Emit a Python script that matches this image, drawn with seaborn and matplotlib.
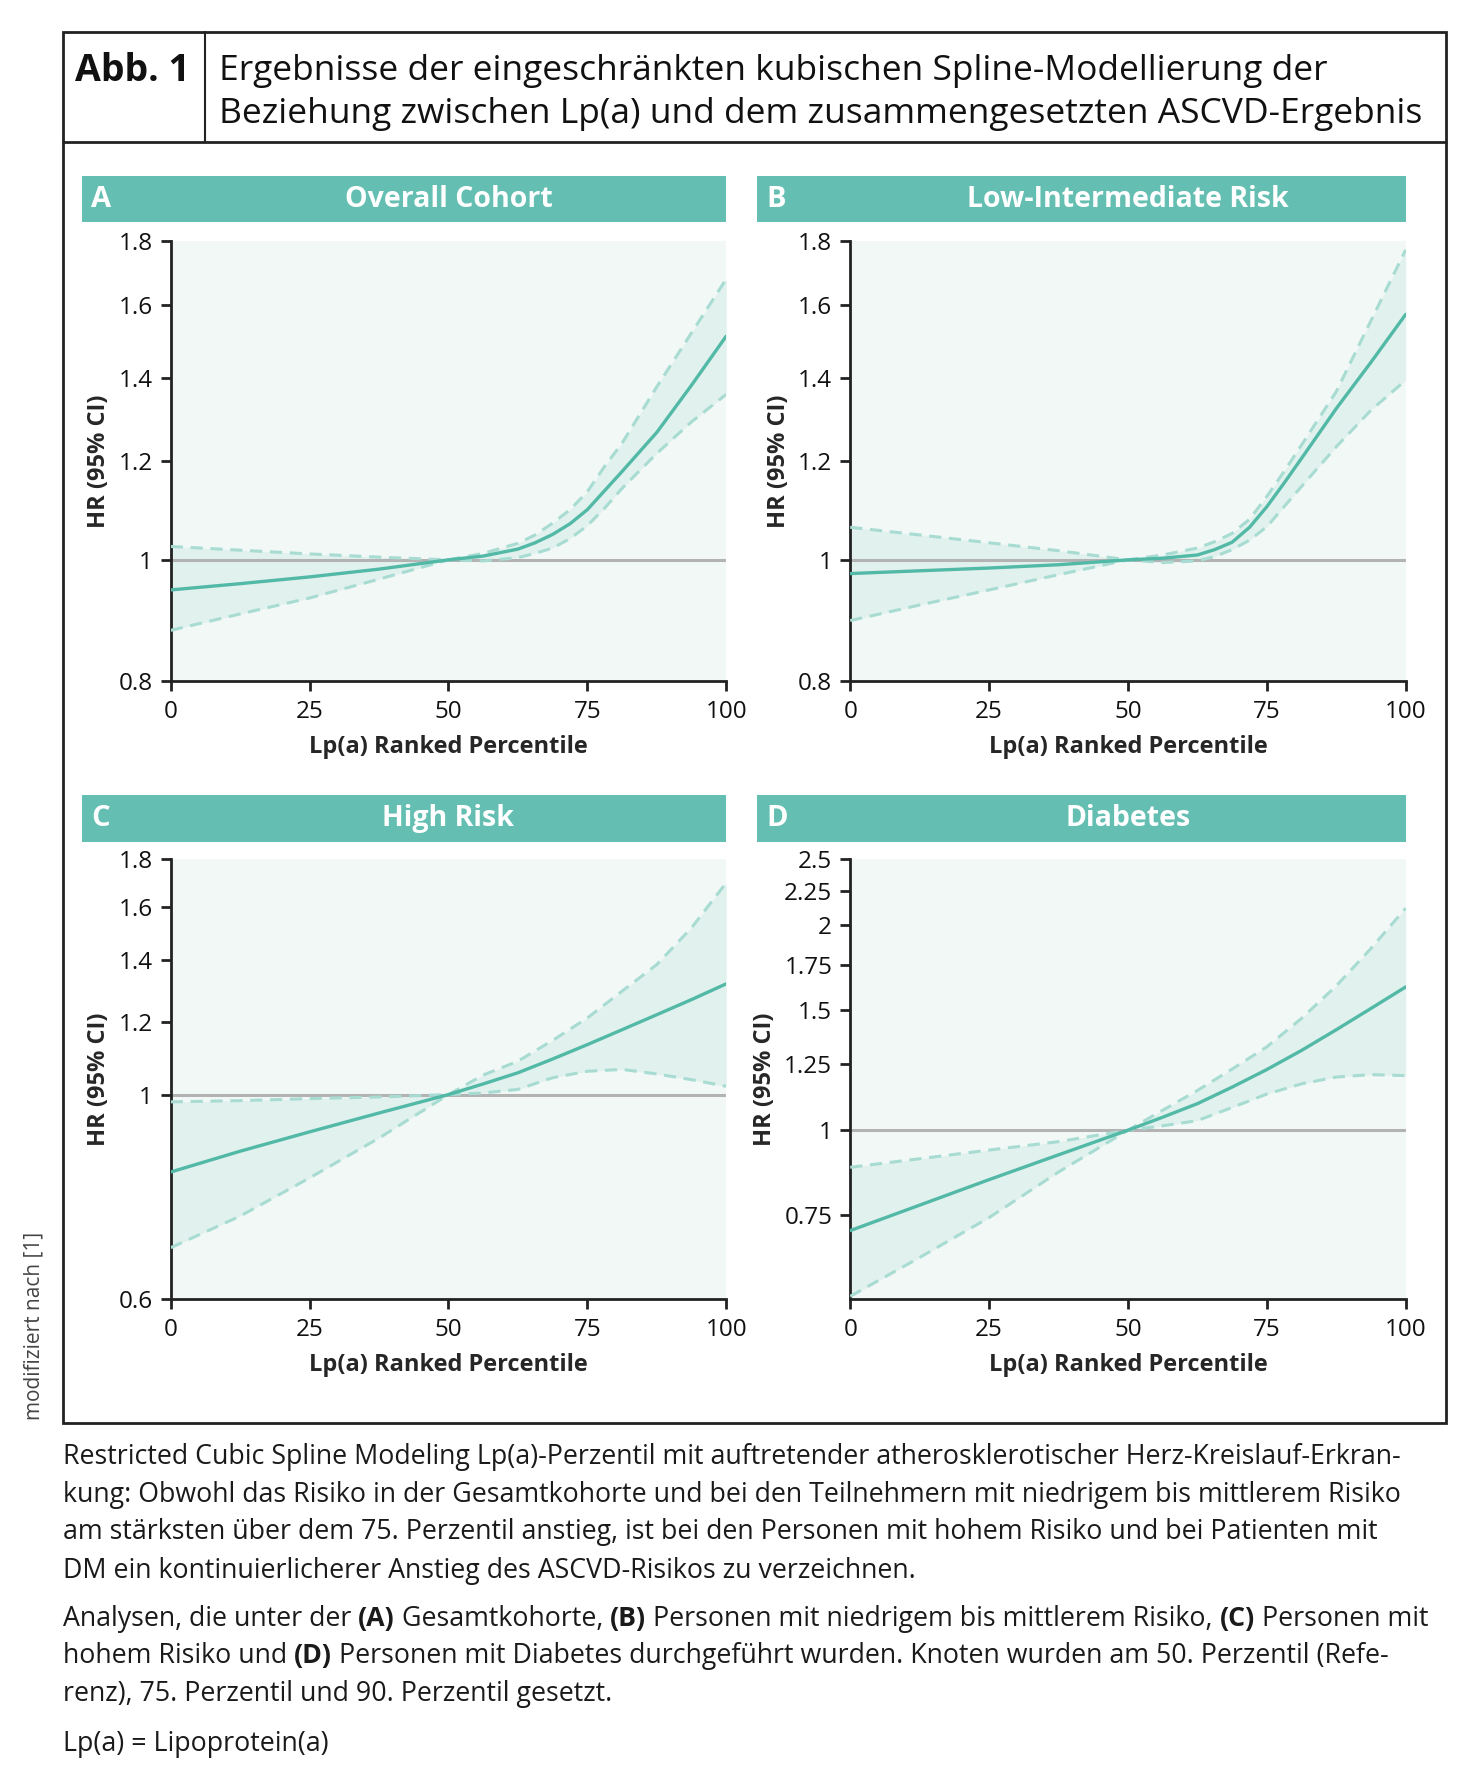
import matplotlib
matplotlib.use("Agg")
import matplotlib.pyplot as plt
from matplotlib.patches import Rectangle
from matplotlib.lines import Line2D
from matplotlib.ticker import FixedLocator, NullLocator
import seaborn as sns

# percentile grids (denser around the knee for A and B)
pct_ab = [0, 12.5, 25, 37.5, 50, 56.25, 62.5, 65.6, 68.75, 71.9, 75, 78.1, 81.25, 87.5, 93.75, 100]
pct_cd = [0, 12.5, 25, 37.5, 50, 56.25, 62.5, 68.75, 75, 81.25, 87.5, 93.75, 100]

# A - overall cohort
a_hr = [0.946, 0.957, 0.969, 0.983, 1.0, 1.007, 1.020, 1.032, 1.048, 1.069, 1.097, 1.136, 1.177, 1.265, 1.380, 1.511]
a_hi = [1.025, 1.018, 1.011, 1.005, 1.0, 1.012, 1.031, 1.047, 1.070, 1.097, 1.134, 1.188, 1.240, 1.376, 1.520, 1.679]
a_lo = [0.878, 0.905, 0.932, 0.965, 1.0, 0.998, 1.004, 1.012, 1.022, 1.040, 1.065, 1.100, 1.141, 1.217, 1.290, 1.357]

# B - low-intermediate risk
b_hr = [0.975, 0.980, 0.985, 0.991, 1.0, 1.003, 1.009, 1.019, 1.033, 1.062, 1.103, 1.152, 1.206, 1.322, 1.440, 1.573]
b_hi = [1.062, 1.047, 1.032, 1.017, 1.0, 1.009, 1.022, 1.034, 1.050, 1.078, 1.124, 1.177, 1.236, 1.364, 1.555, 1.772]
b_lo = [0.894, 0.920, 0.946, 0.973, 1.0, 0.995, 0.998, 1.006, 1.019, 1.037, 1.063, 1.103, 1.145, 1.232, 1.318, 1.393]

# C - high risk
c_hr = [0.824, 0.868, 0.911, 0.955, 1.0, 1.027, 1.056, 1.093, 1.133, 1.176, 1.221, 1.268, 1.319]
c_hi = [0.982, 0.985, 0.990, 0.994, 1.0, 1.050, 1.087, 1.145, 1.211, 1.295, 1.384, 1.517, 1.698]
c_lo = [0.682, 0.738, 0.812, 0.897, 1.0, 1.004, 1.013, 1.043, 1.060, 1.065, 1.053, 1.038, 1.021]

# D - diabetes
d_hr = [0.712, 0.776, 0.846, 0.920, 1.0, 1.045, 1.094, 1.157, 1.228, 1.310, 1.405, 1.510, 1.624]
d_hi = [0.882, 0.908, 0.935, 0.962, 1.0, 1.070, 1.144, 1.230, 1.326, 1.460, 1.630, 1.850, 2.120]
d_lo = [0.570, 0.650, 0.744, 0.868, 1.0, 1.015, 1.033, 1.080, 1.130, 1.170, 1.197, 1.207, 1.203]

panel_letters = ["A", "B", "C", "D"]
panel_titles = ["Overall Cohort", "Low-Intermediate Risk", "High Risk", "Diabetes"]
xticks = [0, 25, 50, 75, 100]
yticks_ab = [0.8, 1, 1.2, 1.4, 1.6, 1.8]
yticks_c = [0.6, 1, 1.2, 1.4, 1.6, 1.8]
yticks_d = [0.75, 1, 1.25, 1.5, 1.75, 2, 2.25, 2.5]

TEAL = "#64BFB2"
LINE = "#52B9A7"
DASH = "#A8DCD2"
BAND = "#E1F1ED"
BG = "#F1F8F6"
REF = "#B3B3B3"

sns.set_theme(style="ticks")
plt.rcParams["font.family"] = ["Open Sans", "DejaVu Sans"]

fig = plt.figure(figsize=(14.66, 17.85), dpi=100)
W, H = 1288.0, 1568.0  # layout measured on a scaled copy


def fx(px):
    return px / W


def fy(py):
    return 1 - py / H


# frame around the figure
fig.add_artist(Rectangle((fx(55), fy(1250)), fx(1270) - fx(55), fy(28) - fy(1250),
                         transform=fig.transFigure, fill=False, ec="#222222", lw=2))
fig.add_artist(Line2D([fx(55), fx(1270)], [fy(125), fy(125)], transform=fig.transFigure,
                      color="#222222", lw=2))
fig.add_artist(Line2D([fx(180), fx(180)], [fy(28), fy(125)], transform=fig.transFigure,
                      color="#222222", lw=1.5))
fig.text(fx(116), fy(62), "Abb. 1", fontsize=27, fontweight="bold", ha="center", va="center",
         color="#111111")
fig.text(fx(192), fy(62), "Ergebnisse der eingeschränkten kubischen Spline-Modellierung der",
         fontsize=25.5, ha="left", va="center", color="#111111")
fig.text(fx(192), fy(100), "Beziehung zwischen Lp(a) und dem zusammengesetzten ASCVD-Ergebnis",
         fontsize=25.5, ha="left", va="center", color="#111111")

# panel geometry: (bar left, bar right, axes left, bar top, bar bottom, axes top, axes bottom)
geo = [
    (72, 638, 150, 155, 195, 212, 598),
    (665, 1235, 747, 155, 195, 212, 598),
    (72, 638, 150, 698, 740, 755, 1141),
    (665, 1235, 747, 698, 740, 755, 1141),
]
xs = [pct_ab, pct_ab, pct_cd, pct_cd]
series = [(a_hr, a_lo, a_hi), (b_hr, b_lo, b_hi), (c_hr, c_lo, c_hi), (d_hr, d_lo, d_hi)]
ylims = [(0.8, 1.8), (0.8, 1.8), (0.6, 1.8), (0.565, 2.5)]
yticks_all = [yticks_ab, yticks_ab, yticks_c, yticks_d]

for i in range(4):
    bl, br, al, bt, bb, at, ab = geo[i]
    hr, lo, hi = series[i]
    x = xs[i]
    # header bar
    fig.add_artist(Rectangle((fx(bl), fy(bb)), fx(br) - fx(bl), fy(bt) - fy(bb),
                             transform=fig.transFigure, color=TEAL, lw=0))
    fig.text(fx(bl + 8), fy((bt + bb) / 2), panel_letters[i], color="white", fontsize=21,
             fontweight="bold", ha="left", va="center")
    fig.text((fx(al) + fx(br)) / 2, fy((bt + bb) / 2), panel_titles[i], color="white",
             fontsize=20.5, fontweight="bold", ha="center", va="center")

    ax = fig.add_axes([fx(al), fy(ab), fx(br) - fx(al), fy(at) - fy(ab)])
    ax.set_facecolor(BG)
    ax.set_yscale("log")
    ax.fill_between(x, lo, hi, color=BAND, lw=0, zorder=1)
    ax.axhline(1, color=REF, lw=2.2, zorder=2)
    sns.lineplot(x=x, y=hi, ax=ax, color=DASH, lw=2.2, linestyle=(0, (4, 2.5)), zorder=3)
    sns.lineplot(x=x, y=lo, ax=ax, color=DASH, lw=2.2, linestyle=(0, (4, 2.5)), zorder=3)
    sns.lineplot(x=x, y=hr, ax=ax, color=LINE, lw=2.4, zorder=4)

    ax.set_xlim(0, 100)
    ax.set_ylim(*ylims[i])
    ax.xaxis.set_major_locator(FixedLocator(xticks))
    ax.set_xticklabels([str(v) for v in xticks])
    ax.yaxis.set_major_locator(FixedLocator(yticks_all[i]))
    ax.yaxis.set_minor_locator(NullLocator())
    ax.set_yticklabels([("%g" % v) for v in yticks_all[i]])
    for side in ["top", "right"]:
        ax.spines[side].set_visible(False)
    for side in ["left", "bottom"]:
        ax.spines[side].set_linewidth(2)
        ax.spines[side].set_color("#222222")
    ax.tick_params(axis="both", length=7, width=2, color="#222222", labelsize=17.5,
                   labelcolor="#111111", pad=6)
    ax.tick_params(axis="x", pad=7)
    ax.set_xlabel("Lp(a) Ranked Percentile", fontsize=17, fontweight="bold", labelpad=8)
    ax.set_ylabel("HR (95% CI)", fontsize=17, fontweight="bold", labelpad=5)

fig.text(fx(30), fy(1165), "modifiziert nach [1]", rotation=90, fontsize=15, color="#444444",
         ha="center", va="center")

# caption below the frame, with some bold pieces
renderer = fig.canvas.get_renderer()
CAP = 19.3


def rich_line(y, parts):
    x = fx(55)
    for txt, bold in parts:
        t = fig.text(x, y, txt, fontsize=CAP, fontweight="bold" if bold else "normal",
                     ha="left", va="center", color="#1a1a1a")
        x += t.get_window_extent(renderer=renderer).width / fig.bbox.width


caption = [
    (1280, [("Restricted Cubic Spline Modeling Lp(a)-Perzentil mit auftretender atherosklerotischer Herz-Kreislauf-Erkran-", False)]),
    (1313, [("kung: Obwohl das Risiko in der Gesamtkohorte und bei den Teilnehmern mit niedrigem bis mittlerem Risiko", False)]),
    (1346, [("am stärksten über dem 75. Perzentil anstieg, ist bei den Personen mit hohem Risiko und bei Patienten mit", False)]),
    (1380, [("DM ein kontinuierlicherer Anstieg des ASCVD-Risikos zu verzeichnen.", False)]),
    (1422, [("Analysen, die unter der ", False), ("(A)", True), (" Gesamtkohorte, ", False), ("(B)", True),
            (" Personen mit niedrigem bis mittlerem Risiko, ", False), ("(C)", True), (" Personen mit", False)]),
    (1455, [("hohem Risiko und ", False), ("(D)", True),
            (" Personen mit Diabetes durchgeführt wurden. Knoten wurden am 50. Perzentil (Refe-", False)]),
    (1488, [("renz), 75. Perzentil und 90. Perzentil gesetzt.", False)]),
    (1532, [("Lp(a) = Lipoprotein(a)", False)]),
]
for py, parts in caption:
    rich_line(fy(py), parts)

fig.savefig("out.png", dpi=100, facecolor="white")
